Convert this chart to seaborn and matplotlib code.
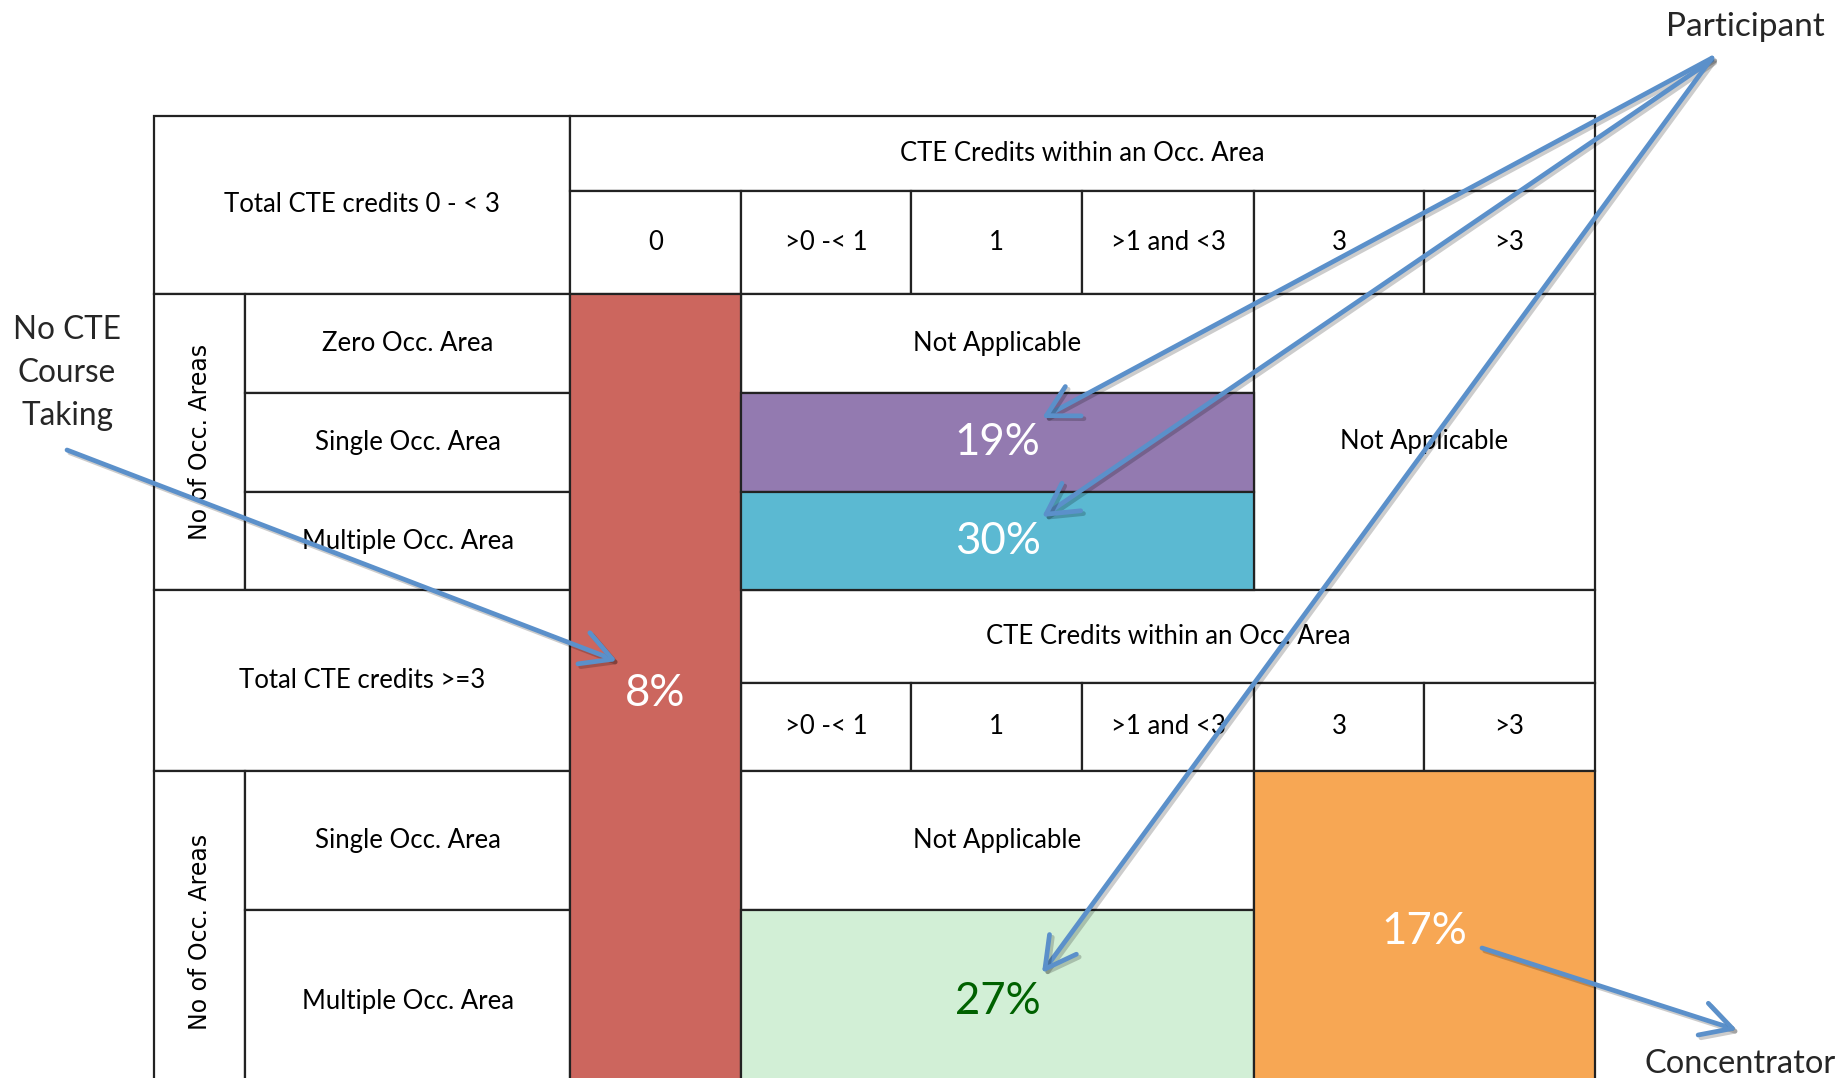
import numpy as np
import pandas as pd
import matplotlib
matplotlib.use("Agg")
import matplotlib.pyplot as plt
import matplotlib.patheffects as pe
from matplotlib.patches import Rectangle
import seaborn as sns

# --- data ---
credit_bins_low = ["0", ">0 -< 1", "1", ">1 and <3", "3", ">3"]
credit_bins_high = [">0 -< 1", "1", ">1 and <3", "3", ">3"]
area_rows_low = ["Zero Occ. Area", "Single Occ. Area", "Multiple Occ. Area"]
area_rows_high = ["Single Occ. Area", "Multiple Occ. Area"]
group_headers = ["Total CTE credits 0 - < 3", "Total CTE credits >=3"]
share_groups = ["No CTE", "Single, 0-<3", "Multiple, 0-<3", "Multiple, >=3 (<3 in area)", "Concentrator"]
share_pct = [8, 19, 30, 27, 17]
share_colors = ["#CC665E", "#937AB0", "#5BB9D2", "#D2EFD6", "#F7A754"]
share_text_colors = ["white", "white", "white", "#006100", "white"]

# --- layout (pixel grid of the figure) ---
col_edges = [154, 245, 570, 741, 911, 1082, 1254, 1424, 1595]
row_edges = [116, 191, 294, 393, 492, 590, 683, 771, 910, 1092]
# grid spans (r0, r1, c0, c1) of each coloured share block
share_spans = [(2, 9, 2, 3), (3, 4, 3, 6), (4, 5, 3, 6), (8, 9, 3, 6), (7, 9, 6, 8)]

sns.set_theme(style="white")
plt.rcParams["font.family"] = ["Lato", "DejaVu Sans"]
palette = sns.color_palette(share_colors)

fig = plt.figure(figsize=(18.44, 10.78), dpi=100)
ax = fig.add_axes([0, 0, 1, 1])
ax.set_xlim(0, 1844)
ax.set_ylim(1078, 0)
ax.axis("off")

TXT = 18.5


def cell(r0, r1, c0, c1, text="", face="white", color="black", size=TXT,
         rotation=0, family=None):
    x0, x1 = col_edges[c0], col_edges[c1]
    y0, y1 = row_edges[r0], row_edges[r1]
    ax.add_patch(Rectangle((x0, y0), x1 - x0, y1 - y0, facecolor=face,
                           edgecolor="#222222", lw=1.6, zorder=1))
    if text:
        kw = {}
        if family:
            kw["family"] = family
        ax.text((x0 + x1) / 2, (y0 + y1) / 2, text, ha="center", va="center",
                color=color, fontsize=size, rotation=rotation, zorder=3, **kw)


# upper block
cell(0, 2, 0, 2, group_headers[0])
cell(0, 1, 2, 8, "CTE Credits within an Occ. Area")
for i, lab in enumerate(credit_bins_low):
    cell(1, 2, 2 + i, 3 + i, lab)
cell(2, 5, 0, 1, "No of Occ. Areas", rotation=90, size=17, family="DejaVu Sans")
for i, lab in enumerate(area_rows_low):
    cell(2 + i, 3 + i, 1, 2, lab)
cell(2, 3, 3, 6, "Not Applicable")
cell(2, 5, 6, 8, "Not Applicable")

# lower block
cell(5, 7, 0, 2, group_headers[1])
cell(5, 6, 3, 8, "CTE Credits within an Occ. Area")
for i, lab in enumerate(credit_bins_high):
    cell(6, 7, 3 + i, 4 + i, lab)
cell(7, 9, 0, 1, "No of Occ. Areas", rotation=90, size=17, family="DejaVu Sans")
for i, lab in enumerate(area_rows_high):
    cell(7 + i, 8 + i, 1, 2, lab)
cell(7, 8, 3, 6, "Not Applicable")

# coloured share blocks
for (r0, r1, c0, c1), pct, col, tcol in zip(share_spans, share_pct, palette, share_text_colors):
    cell(r0, r1, c0, c1, f"{pct}%", face=col, color=tcol, size=31.5)

# callout labels
ax.text(67, 373, "No CTE\nCourse\nTaking", ha="center", va="center",
        fontsize=22.7, linespacing=1.55)
ax.text(1745, 27, "Participant", ha="center", va="center", fontsize=24)
ax.text(1740, 1064, "Concentrator", ha="center", va="center", fontsize=23.5)

arrow_color = "#5B90CA"
shadow = [pe.SimpleLineShadow(offset=(2, -2), shadow_color="black", alpha=0.2),
          pe.Normal()]
arrows = [((67, 450), (617, 661)),
          ((1712, 58), (1042, 418)),
          ((1712, 60), (1042, 517)),
          ((1712, 58), (1042, 973)),
          ((1482, 948), (1737, 1030))]
for start, end in arrows:
    ax.annotate("", xy=end, xytext=start,
                arrowprops=dict(arrowstyle="->,head_length=0.55,head_width=0.3",
                                lw=3.4, color=arrow_color, mutation_scale=40,
                                shrinkA=0, shrinkB=0, path_effects=shadow),
                zorder=5)

fig.savefig("out.png", dpi=100)
